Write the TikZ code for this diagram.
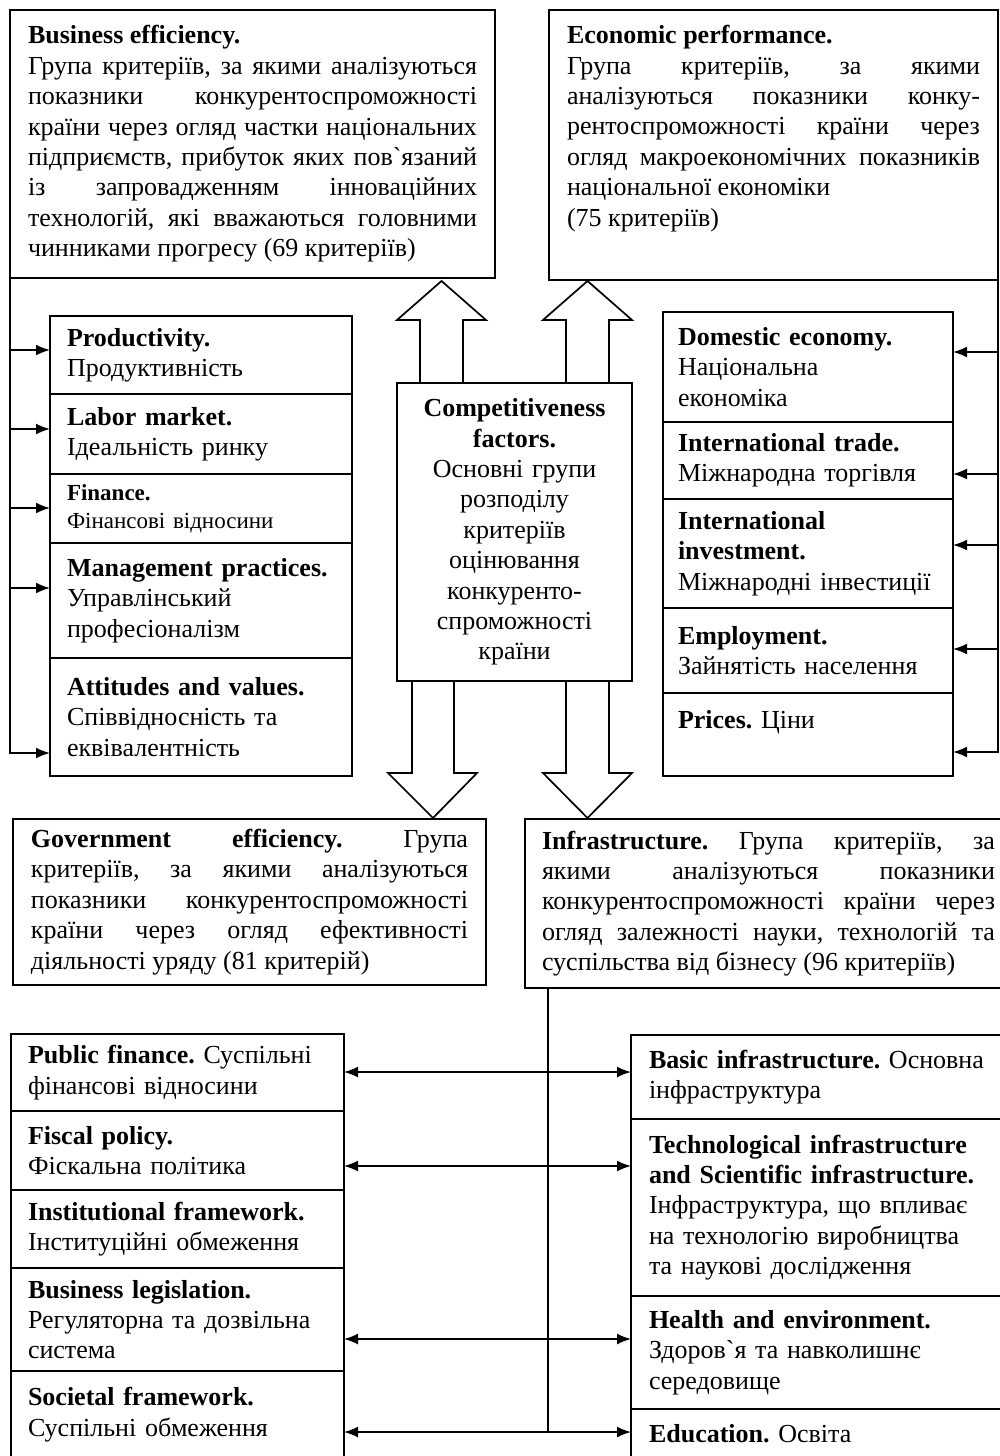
\documentclass[tikz,border=0pt]{standalone}
\usepackage{fontspec}
\setmainfont{Liberation Serif}[Ligatures=TeXOff]
\usetikzlibrary{arrows.meta}
\usetikzlibrary{positioning}
\frenchspacing

\begin{document}
\begin{tikzpicture}[x=0.5pt,y=-0.5pt,line width=0.85pt,>={Latex[length=7pt,width=5.5pt]},
  every node/.style={outer sep=0pt,font=\fontsize{13}{15.2}\selectfont},
  bigbox/.style={draw,anchor=north west,align=justify,inner xsep=9pt,inner ysep=2pt},
  itembox/.style={draw,anchor=north west,align=left,inner ysep=2pt},
  leftitem/.style={itembox,inner xsep=8.5pt,text width=134pt},
  rightitem/.style={itembox,inner xsep=7.5pt,text width=130pt},
  lowleft/.style={itembox,inner xsep=8.5pt,text width=149.5pt},
  lowright/.style={itembox,inner xsep=9pt,text width=170pt},
  fatarrow/.style={draw,line join=miter}]

  \useasboundingbox (0,0) rectangle (1000,1456);
  \clip (0,0) rectangle (1000,1456);

  % top groups
  \node[bigbox,text width=224.5pt,minimum height=134pt] (BE) at (10,10) {\textbf{Business efficiency.}\\
    Група критеріїв, за якими аналізуються\linebreak
    показники конкурентоспроможності\linebreak
    країни через огляд частки національних\linebreak
    підприємств, прибуток яких пов`язаний\linebreak
    із запровадженням інноваційних\linebreak
    технологій, які вважаються головними\linebreak
    чинниками прогресу (69 критеріїв)};
  \node[bigbox,text width=206.5pt,minimum height=135pt] (EP) at (549,10) {\textbf{Economic performance.}\\
    Група критеріїв, за якими\linebreak
    аналізуються показники конку-\linebreak
    рентоспроможності країни через\linebreak
    огляд макроекономічних показників\linebreak
    національної економіки\\
    (75 критеріїв)\\[4pt] \mbox{}};

  % centre
  \node[draw,anchor=north west,align=center,inner xsep=4pt,text width=109.5pt,minimum height=149pt] (CF) at (397,383)
    {\textbf{Competitiveness}\\ \textbf{factors.}\\ Основні групи\\ розподілу\\ критеріїв\\ оцінювання\\ конкуренто-\\ спроможності\\ країни};

  % left stack
  \node[leftitem,minimum height=39pt] (P) at (50,316) {\textbf{Productivity.}\\ Продуктивність};
  \node[leftitem,minimum height=40pt,below=0pt of P] (L) {\textbf{Labor market.}\\ Ідеальність ринку};
  \node[leftitem,minimum height=34.5pt,below=0pt of L,font=\fontsize{11.5}{14}\selectfont] (F) {\textbf{Finance.}\\ Фінансові відносини};
  \node[leftitem,minimum height=57.5pt,below=0pt of F] (M) {\textbf{Management practices.}\\ Управлінський\\ професіоналізм};
  \node[leftitem,minimum height=59pt,below=0pt of M] (A) {\textbf{Attitudes and values.}\\ Співвідносність та\\ еквівалентність};

  % right stack
  \node[rightitem,minimum height=55pt] (D) at (663,312) {\textbf{Domestic economy.}\\ Національна\\ економіка};
  \node[rightitem,minimum height=38.5pt,below=0pt of D] (T) {\textbf{International trade.}\\ Міжнародна торгівля};
  \node[rightitem,minimum height=54.5pt,below=0pt of T] (V) {\textbf{International}\\ \textbf{investment.}\\ Міжнародні інвестиції};
  \node[rightitem,minimum height=42.5pt,below=0pt of V] (E) {\textbf{Employment.}\\ Зайнятість населення};
  \node[rightitem,minimum height=41.5pt,below=0pt of E] (R) {\textbf{Prices.} Ціни\\ \mbox{}};

  % lower groups
  \node[bigbox,text width=218.5pt,minimum height=83pt] (GE) at (13,819) {\textbf{Government efficiency.} Група\linebreak
    критеріїв, за якими аналізуються\linebreak
    показники конкурентоспроможності\linebreak
    країни через огляд ефективності\linebreak
    діяльності уряду (81 критерій)};
  \node[bigbox,inner xsep=8.5pt,text width=226.5pt,minimum height=84.5pt] (IN) at (525,819) {\textbf{Infrastructure.} Група критеріїв, за\linebreak
    якими аналізуються показники\linebreak
    конкурентоспроможності країни через\linebreak
    огляд залежності науки, технологій та\linebreak
    суспільства від бізнесу (96 критеріїв)};

  \node[lowleft,minimum height=38.5pt] (PF) at (11,1034) {\textbf{Public finance.} Суспільні\\ фінансові відносини};
  \node[lowleft,minimum height=39.5pt,below=0pt of PF] (FP) {\textbf{Fiscal policy.}\\ Фіскальна політика};
  \node[lowleft,minimum height=39pt,below=0pt of FP] (IF) {\textbf{Institutional framework.}\\ Інституційні обмеження};
  \node[lowleft,minimum height=51.5pt,below=0pt of IF] (BL) {\textbf{Business legislation.}\\ Регуляторна та дозвільна\\ система};
  \node[lowleft,minimum height=43.5pt,below=0pt of BL] (SF) {\textbf{Societal framework.}\\ Суспільні обмеження};

  \node[lowright,minimum height=42pt] (BI) at (631,1035) {\textbf{Basic infrastructure.} Основна\\ інфраструктура};
  \node[lowright,minimum height=88.5pt,below=0pt of BI] (TI) {\textbf{Technological infrastructure}\\ \textbf{and Scientific infrastructure.}\\ Інфраструктура, що впливає\\ на технологію виробництва\\ та наукові дослідження};
  \node[lowright,minimum height=56.5pt,below=0pt of TI] (HE) {\textbf{Health and environment.}\\ Здоров`я та навколишнє\\ середовище};
  \node[lowright,minimum height=25pt,below=0pt of HE] (ED) {\textbf{Education.} Освіта};

  % wide arrows round the centre
  \draw[fatarrow] (420,383) -- (420,320) -- (397,320) -- (441.5,281) -- (486,320) -- (463,320) -- (463,383);
  \draw[fatarrow] (566,383) -- (566,320) -- (543,320) -- (587.5,281) -- (632,320) -- (609,320) -- (609,383);
  \draw[fatarrow] (412,681) -- (412,773) -- (388,773) -- (433,818) -- (477,773) -- (454,773) -- (454,681);
  \draw[fatarrow] (566,681) -- (566,773) -- (543,773) -- (587.5,818) -- (632,773) -- (609,773) -- (609,681);

  % side lines
  \draw[->] (BE.south west) |- (A.west |- 0,753);
  \path[->] (BE.south west |- 0,350) edge (P.west |- 0,350)
            (BE.south west |- 0,429) edge (L.west |- 0,429)
            (BE.south west |- 0,508) edge (F.west |- 0,508)
            (BE.south west |- 0,588) edge (M.west |- 0,588);
  \draw[->] (EP.south east) |- (R.east |- 0,752);
  \path[->] (EP.south east |- 0,352) edge (D.east |- 0,352)
            (EP.south east |- 0,474) edge (T.east |- 0,474)
            (EP.south east |- 0,545) edge (V.east |- 0,545)
            (EP.south east |- 0,649) edge (E.east |- 0,649);

  % lower links
  \draw (IN.south -| 548,0) -- (548,1432);
  \path[<->] (PF.east |- 0,1072) edge (BI.west |- 0,1072)
             (FP.east |- 0,1166) edge (TI.west |- 0,1166)
             (BL.east |- 0,1339) edge (HE.west |- 0,1339)
             (SF.east |- 0,1432) edge (ED.west |- 0,1432);

\end{tikzpicture}
\end{document}
